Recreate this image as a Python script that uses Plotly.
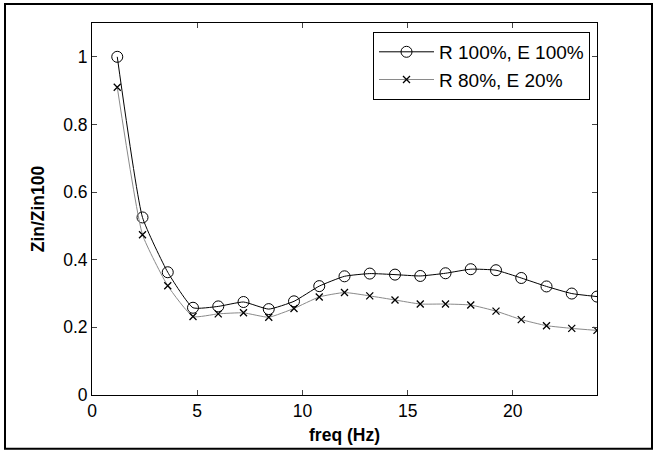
import plotly.graph_objects as go

freq = [1.2, 2.4, 3.6, 4.8, 6.0, 7.2, 8.4, 9.6, 10.8, 12.0,
        13.2, 14.4, 15.6, 16.8, 18.0, 19.2, 20.4, 21.6, 22.8, 24.0]
r100_e100 = [1.000, 0.525, 0.363, 0.258, 0.262, 0.275, 0.254, 0.277, 0.322, 0.351,
             0.359, 0.356, 0.352, 0.360, 0.372, 0.369, 0.346, 0.321, 0.300, 0.291]
r80_e20 = [0.910, 0.474, 0.323, 0.232, 0.240, 0.243, 0.230, 0.256, 0.290, 0.303,
           0.293, 0.281, 0.269, 0.269, 0.266, 0.248, 0.223, 0.205, 0.197, 0.191]
series_names = ["R 100%, E 100%", "R 80%, E 20%"]
x_ticks = [0, 5, 10, 15, 20]
y_ticks = [0, 0.2, 0.4, 0.6, 0.8, 1]
y_tick_labels = ["0", "0.2", "0.4", "0.6", "0.8", "1"]

FONT = "Liberation Sans, Arial, sans-serif"

fig = go.Figure()
fig.add_trace(go.Scatter(
    x=freq, y=r100_e100, name=series_names[0], mode="lines+markers",
    line=dict(color="black", width=1, shape="spline", smoothing=0.45),
    marker=dict(symbol="circle-open", size=11, color="black", line=dict(width=1)),
))
fig.add_trace(go.Scatter(
    x=freq, y=r80_e20, name=series_names[1], mode="lines+markers",
    line=dict(color="#8a8a8a", width=1, shape="spline", smoothing=0.45),
    marker=dict(symbol="x-thin-open", size=7, color="black", line=dict(width=1.3, color="black")),
))

L, R, T, B = 92, 57, 23, 56
W, H = 654, 453
pw, ph = W - L - R, H - T - B

def px(xp):
    return (xp - L) / pw

def py(yp):
    return (H - B - yp) / ph

fig.update_layout(
    width=W, height=H,
    margin=dict(l=L, r=R, t=T, b=B, pad=0),
    paper_bgcolor="white", plot_bgcolor="white",
    font=dict(family=FONT, size=17.5, color="black"),
    showlegend=True,
    legend=dict(
        x=px(590), y=py(32), xanchor="right", yanchor="top",
        bordercolor="black", borderwidth=1, bgcolor="white",
        font=dict(size=19), itemwidth=55, tracegroupgap=0,
    ),
    xaxis=dict(
        range=[0, 24], tickvals=x_ticks, ticks="inside", ticklen=5,
        showline=True, linecolor="black", linewidth=1, mirror="ticks",
        showgrid=False, zeroline=False,
        title=dict(text="<b>freq (Hz)</b>", font=dict(size=17.5), standoff=8),
    ),
    yaxis=dict(
        range=[0, 1.1], tickvals=y_ticks, ticktext=y_tick_labels,
        ticks="inside", ticklen=5,
        showline=True, linecolor="black", linewidth=1, mirror="ticks",
        showgrid=False, zeroline=False,
        title=dict(text="<b>Zin/Zin100</b>", font=dict(size=17.5), standoff=14),
    ),
    shapes=[dict(
        type="rect", xref="paper", yref="paper",
        x0=px(5), x1=px(652), y0=py(451), y1=py(4),
        line=dict(color="black", width=2), layer="below",
    )],
)

fig.write_html(
    "out.html",
    config={"displayModeBar": False},
    post_script="document.body.style.margin='0';document.body.style.overflow='hidden';",
)
